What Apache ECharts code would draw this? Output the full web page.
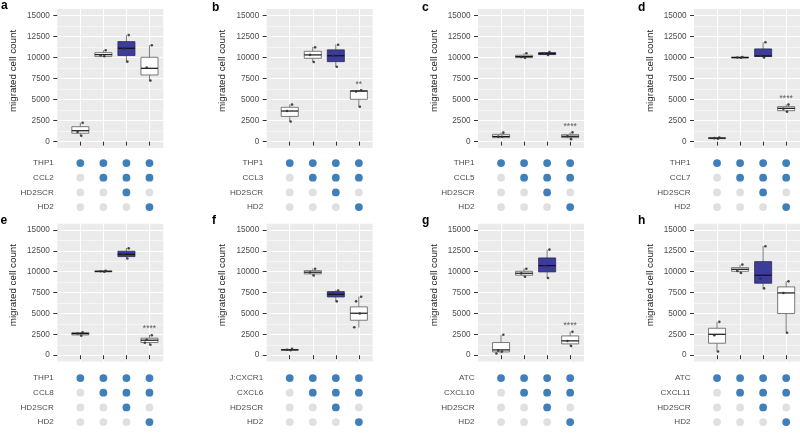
<!DOCTYPE html>
<html>
<head>
<meta charset="utf-8">
<title>migrated cell count</title>
<script src="https://cdn.jsdelivr.net/npm/echarts@6/dist/echarts.min.js"></script>
<style>
  html, body { margin: 0; padding: 0; background: #fff; }
  #chart { width: 800px; height: 433px; }
</style>
</head>
<body>
<div id="chart"></div>
<script>
// panel labels and the condition matrix rows
const panelLetters = ['a', 'b', 'c', 'd', 'e', 'f', 'g', 'h'];
const cellLines = ['THP1', 'THP1', 'THP1', 'THP1', 'THP1', 'J:CXCR1', 'ATC', 'ATC'];
const chemokines = ['CCL2', 'CCL3', 'CCL5', 'CCL7', 'CCL8', 'CXCL6', 'CXCL10', 'CXCL11'];
const extraRows = ['HD2SCR', 'HD2'];
const matrixOn = [
    [1, 1, 1, 1],
    [0, 1, 1, 1],
    [0, 0, 1, 0],
    [0, 0, 0, 1]
];
const yTicks = [0, 2500, 5000, 7500, 10000, 12500, 15000];
const yMinorTicks = [1250, 3750, 6250, 8750, 11250, 13750];
const sigLabels = ['', '**', '****', '****', '****', '', '****', ''];

// box stats per condition: [min, Q1, median, Q3, max]
const boxA = [[700, 1000, 1300, 1780, 2250], [10100, 10100, 10330, 10570, 10850], [9500, 10220, 11090, 11880, 12650], [7200, 7920, 8710, 10020, 11450]];
const boxB = [[2400, 3000, 3640, 4080, 4430], [9460, 9900, 10300, 10730, 11250], [8900, 9500, 10200, 10900, 11550], [4150, 5030, 6000, 6060, 6100]];
const boxC = [[480, 480, 620, 870, 1070], [9950, 9980, 10100, 10260, 10500], [10300, 10340, 10450, 10570, 10650], [300, 480, 640, 830, 1100]];
const boxD = [[330, 360, 420, 480, 520], [9950, 9970, 10000, 10020, 10050], [9980, 10100, 10180, 11010, 11800], [3530, 3680, 3960, 4160, 4430]];
const boxE = [[2330, 2430, 2590, 2710, 2760], [9980, 10010, 10050, 10080, 10100], [11570, 11810, 12090, 12450, 12850], [1240, 1520, 1800, 2040, 2430]];
const boxF = [[580, 610, 650, 690, 760], [9500, 9740, 9940, 10130, 10370], [6460, 6980, 7300, 7620, 7800], [3310, 4190, 5030, 5790, 7020]];
const boxG = [[200, 400, 640, 1520, 2430], [9380, 9580, 9820, 10050, 10410], [9260, 9980, 10730, 11650, 12650], [1080, 1360, 1720, 2310, 2830]];
const boxH = [[520, 1440, 2510, 3230, 3990], [9820, 10050, 10290, 10490, 10850], [7980, 8620, 9580, 11210, 13080], [2710, 4990, 7460, 8180, 8860]];

// individual replicate counts
const ptsA = [[2250, 1150, 700], [10850, 10250, 10150], [12650, 11000, 9500], [11450, 8800, 7250]];
const ptsB = [[4400, 3650, 2400], [11200, 10300, 9460], [11500, 10200, 8900], [6100, 5950, 4150]];
const ptsC = [[1070, 600, 580], [10500, 10050, 9950], [10650, 10450, 10300], [1100, 650, 300]];
const ptsD = [[500, 420, 350], [10050, 10000, 9960], [11800, 10200, 9980], [4400, 3900, 3550]];
const ptsE = [[2750, 2600, 2330], [10100, 10050, 10000], [12800, 12050, 11580], [2400, 1850, 1250, 1500]];
const ptsF = [[760, 650, 600], [10350, 9900, 9550], [7750, 7450, 6450], [7000, 6450, 5000, 3350]];
const ptsG = [[2450, 550, 450, 200], [10350, 9800, 9400], [12650, 10700, 9250], [2800, 1700, 1100]];
const ptsH = [[4000, 2400, 450], [10850, 10100, 9850], [13050, 9200, 8000], [8850, 7450, 2700]];

const boxes = [boxA, boxB, boxC, boxD, boxE, boxF, boxG, boxH];
const points = [ptsA, ptsB, ptsC, ptsD, ptsE, ptsF, ptsG, ptsH];

// layout
const colLeft = [57.3, 266.7, 478, 694];
const panelWidth = 106;
const boxTop = [9, 223.7];
const boxHeight = [139, 137.8];
const dotTop = [155.7, 370.7];
const dotHeight = 58.7;
const letterPos = [[1, 0], [212, 2], [422, 2], [638, 2], [0.5, 214.5], [212, 214.5], [422, 214.5], [638, 214.5]];
const xMax = 4.6;
const jitter = [0.1, -0.12, 0.04, -0.2];
const font = 'Liberation Sans, Arial, Helvetica, sans-serif';
const blue = '#3C3C9A';

const chart = echarts.init(document.getElementById('chart'));

const grids = [];
const xAxes = [];
const yAxes = [];
const series = [];
const graphics = [];

function renderBox(params, api) {
    const x = api.value(0);
    const half = api.size([0.37, 0])[0];
    const pMin = api.coord([x, api.value(1)]);
    const pQ1 = api.coord([x, api.value(2)]);
    const pMed = api.coord([x, api.value(3)]);
    const pQ3 = api.coord([x, api.value(4)]);
    const pMax = api.coord([x, api.value(5)]);
    const fill = params.dataIndex === 2 ? blue : '#ffffff';
    const edge = params.dataIndex === 2 ? '#2a2a55' : '#5a5a5a';
    return {
        type: 'group',
        children: [
            { type: 'line', shape: { x1: pMin[0], y1: pMin[1], x2: pQ1[0], y2: pQ1[1] }, style: { stroke: '#5a5a5a', lineWidth: 0.8 } },
            { type: 'line', shape: { x1: pQ3[0], y1: pQ3[1], x2: pMax[0], y2: pMax[1] }, style: { stroke: '#5a5a5a', lineWidth: 0.8 } },
            { type: 'rect', shape: { x: pQ3[0] - half, y: pQ3[1], width: half * 2, height: Math.max(pQ1[1] - pQ3[1], 0.8) }, style: { fill: fill, stroke: edge, lineWidth: 0.8 } },
            { type: 'line', shape: { x1: pMed[0] - half, y1: pMed[1], x2: pMed[0] + half, y2: pMed[1] }, style: { stroke: '#111', lineWidth: 1.2 } }
        ]
    };
}

panelLetters.forEach(function (letter, i) {
    const col = i % 4;
    const row = Math.floor(i / 4);
    const left = colLeft[col];

    // box plot panel
    const gBox = grids.length;
    grids.push({
        left: left, top: boxTop[row], width: panelWidth, height: boxHeight[row],
        show: true, backgroundColor: '#EBEBEB', borderWidth: 0
    });
    const xBox = xAxes.length;
    xAxes.push({
        gridIndex: gBox, type: 'value', min: 0, max: xMax,
        axisLine: { show: false },
        axisTick: { show: true, length: 4, customValues: [1, 2, 3, 4], lineStyle: { color: '#333', width: 1 } },
        axisLabel: { show: false },
        splitLine: { show: true, lineStyle: { color: '#fff', width: 1 } }
    });
    const yBox = yAxes.length;
    yAxes.push({
        gridIndex: gBox, type: 'value', min: -750, max: 15750,
        axisLine: { show: false },
        axisTick: { show: true, length: 4, customValues: yTicks, lineStyle: { color: '#333', width: 1 } },
        axisLabel: {
            customValues: yTicks, margin: 7.5, color: '#4D4D4D', fontSize: 8.2, fontFamily: font,
            formatter: function (v) { return String(v); }
        },
        splitLine: { show: true, lineStyle: { color: '#fff', width: 1 } }
    });
    yAxes.push({
        gridIndex: gBox, type: 'value', min: -750, max: 15750, position: 'left',
        axisLine: { show: false },
        axisTick: { show: false, customValues: yMinorTicks },
        axisLabel: { show: false },
        splitLine: { show: true, lineStyle: { color: '#fff', width: 0.5 } }
    });

    series.push({
        type: 'custom',
        xAxisIndex: xBox, yAxisIndex: yBox,
        renderItem: renderBox,
        encode: { x: 0, y: [1, 2, 3, 4, 5] },
        data: boxes[i].map(function (b, c) { return [c + 1].concat(b); }),
        z: 3,
        silent: true
    });

    const pts = [];
    points[i].forEach(function (list, c) {
        list.forEach(function (v, k) {
            pts.push([c + 1 + jitter[k % jitter.length], v]);
        });
    });
    series.push({
        type: 'scatter',
        xAxisIndex: xBox, yAxisIndex: yBox,
        data: pts,
        symbolSize: 2.6,
        itemStyle: { color: '#333', opacity: 0.9 },
        z: 4,
        silent: true
    });

    if (sigLabels[i]) {
        series.push({
            type: 'scatter',
            xAxisIndex: xBox, yAxisIndex: yBox,
            data: [[4, boxes[i][3][4]]],
            symbolSize: 1,
            itemStyle: { color: 'transparent' },
            label: {
                show: true, position: 'top', distance: 1,
                formatter: sigLabels[i],
                color: '#333', fontSize: 8.5, fontFamily: font
            },
            z: 4,
            silent: true
        });
    }

    // condition matrix under the panel
    const rowNames = [cellLines[i], chemokines[i]].concat(extraRows);
    const gDot = grids.length;
    grids.push({ left: left, top: dotTop[row], width: panelWidth, height: dotHeight });
    const xDot = xAxes.length;
    xAxes.push({ gridIndex: gDot, type: 'value', min: 0, max: xMax, show: false });
    const yDot = yAxes.length;
    yAxes.push({
        gridIndex: gDot, type: 'category', data: rowNames, inverse: true,
        axisLine: { show: false }, axisTick: { show: false }, splitLine: { show: false },
        axisLabel: { margin: 3.5, color: '#4D4D4D', fontSize: 8.1, fontFamily: font }
    });
    const dots = [];
    matrixOn.forEach(function (flags, r) {
        flags.forEach(function (on, c) {
            dots.push({ value: [c + 1, rowNames[r]], itemStyle: { color: on ? '#3F7FBA' : '#E0E0E0', opacity: 1 } });
        });
    });
    series.push({
        type: 'scatter',
        xAxisIndex: xDot, yAxisIndex: yDot,
        data: dots,
        symbolSize: 7.8,
        itemStyle: { opacity: 1 },
        silent: true
    });

    // panel letter and y axis title
    graphics.push({
        type: 'text', x: letterPos[i][0], y: letterPos[i][1],
        style: { text: letter, font: 'bold 12px ' + font, fill: '#000', verticalAlign: 'top' }
    });
    graphics.push({
        type: 'text', x: left - 44, y: boxTop[row] + boxHeight[row] / 2 - 7.5, rotation: Math.PI / 2,
        style: { text: 'migrated cell count', font: '9.8px ' + font, fill: '#1a1a1a', align: 'center', verticalAlign: 'middle' }
    });
});

chart.setOption({
    animation: false,
    textStyle: { fontFamily: font },
    grid: grids,
    xAxis: xAxes,
    yAxis: yAxes,
    series: series,
    graphic: graphics
});

window.addEventListener('resize', function () {
    chart.resize();
});
</script>
</body>
</html>
